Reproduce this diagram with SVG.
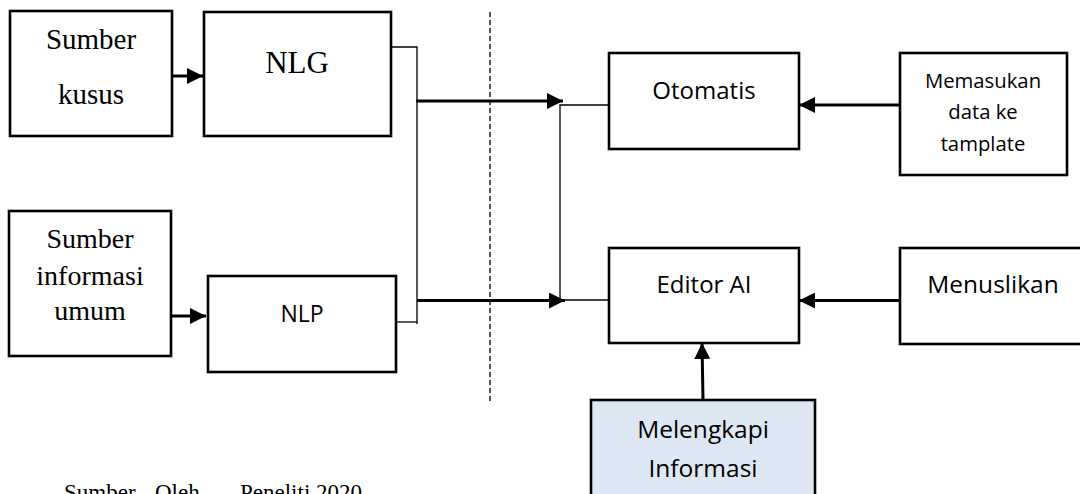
<svg xmlns="http://www.w3.org/2000/svg" width="1080" height="494" viewBox="0 0 1080 494">
<style>
.box{fill:#fff;stroke:#000;stroke-width:2.6}
.blue{fill:#dde8f4;stroke:#000;stroke-width:2.6}
.serif{font-family:"Liberation Serif","Times New Roman",serif;fill:#000;text-anchor:middle}
.sans{font-family:"Open Sans","Noto Sans",sans-serif;fill:#000;text-anchor:middle}
.thin{fill:none;stroke:#000;stroke-width:1.3}
.thick{fill:none;stroke:#000;stroke-width:3}
.dash{fill:none;stroke:#000;stroke-width:1.3;stroke-dasharray:5 3}
</style>
<defs>
<marker id="ah" viewBox="0 0 16 16" refX="16" refY="8" markerWidth="16" markerHeight="16" markerUnits="userSpaceOnUse" orient="auto">
<path d="M0,0 L16,8 L0,16 Z" fill="#000"/>
</marker>
</defs>
<rect width="1080" height="494" fill="#fff"/>
<g id="connectors">
<line class="dash" x1="490" y1="12" x2="490" y2="402"/>
<polyline class="thin" points="391,47 417,47 417,324"/>
<line class="thin" x1="396" y1="322" x2="417" y2="322"/>
<polyline class="thin" points="560,300 560,105 609,105"/>
<line class="thin" x1="562" y1="300" x2="609" y2="300"/>
<line class="thick" x1="172" y1="76" x2="203" y2="76" marker-end="url(#ah)"/>
<line class="thick" x1="171" y1="316" x2="206" y2="316" marker-end="url(#ah)"/>
<line class="thick" x1="416" y1="101" x2="563" y2="101" marker-end="url(#ah)"/>
<line class="thick" x1="417" y1="300.5" x2="565" y2="300.5" marker-end="url(#ah)"/>
<line class="thick" x1="900" y1="105" x2="799" y2="105" marker-end="url(#ah)"/>
<line class="thick" x1="900" y1="300.5" x2="799" y2="300.5" marker-end="url(#ah)"/>
<line class="thick" x1="703" y1="400" x2="702" y2="343" marker-end="url(#ah)"/>
</g>
<g id="sumber-kusus">
<rect class="box" x="10" y="11" width="162" height="125"/>
<text class="serif" x="91" y="49" font-size="29">Sumber</text>
<text class="serif" x="91" y="104" font-size="29">kusus</text>
</g>
<g id="nlg">
<rect class="box" x="204" y="12" width="187" height="124"/>
<text class="serif" x="297" y="73" font-size="31">NLG</text>
</g>
<g id="sumber-informasi">
<rect class="box" x="9" y="211" width="162" height="145"/>
<text class="serif" x="90" y="248" font-size="28">Sumber</text>
<text class="serif" x="90" y="285" font-size="28">informasi</text>
<text class="serif" x="90" y="320" font-size="28">umum</text>
</g>
<g id="nlp">
<rect class="box" x="208" y="276" width="188" height="96"/>
<text class="sans" x="302" y="322" font-size="23">NLP</text>
</g>
<g id="otomatis">
<rect class="box" x="609" y="53" width="190" height="96"/>
<text class="sans" x="704" y="99" font-size="24">Otomatis</text>
</g>
<g id="memasukan">
<rect class="box" x="900" y="53" width="167" height="122"/>
<text class="sans" x="983" y="88" font-size="20.3">Memasukan</text>
<text class="sans" x="983" y="119" font-size="20.3">data ke</text>
<text class="sans" x="983" y="151" font-size="20.3">tamplate</text>
</g>
<g id="editor-ai">
<rect class="box" x="609" y="248" width="190" height="95"/>
<text class="sans" x="704" y="293" font-size="24">Editor AI</text>
</g>
<g id="menuslikan">
<rect class="box" x="900" y="248" width="190" height="96"/>
<text class="sans" x="993" y="293" font-size="24.5">Menuslikan</text>
</g>
<g id="melengkapi">
<rect class="blue" x="591" y="400" width="224" height="110"/>
<text class="sans" x="703" y="438" font-size="24.5">Melengkapi</text>
<text class="sans" x="703" y="477" font-size="24.5">Informasi</text>
</g>
<g id="caption">
<text font-family="'Liberation Serif','Times New Roman',serif" font-size="23" fill="#000"><tspan x="64" y="500">Sumber</tspan><tspan x="155" y="500">Oleh</tspan><tspan x="240" y="500">Peneliti 2020</tspan></text>
</g>
</svg>
